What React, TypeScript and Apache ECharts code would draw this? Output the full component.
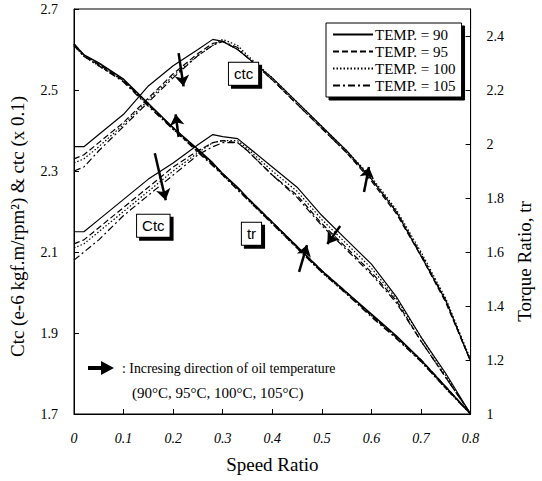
import React, { useEffect, useRef } from "react";
import * as echarts from "echarts";

const speedRatio = [0, 0.02, 0.05, 0.1, 0.15, 0.2, 0.25, 0.28, 0.3, 0.33, 0.35, 0.4, 0.45, 0.5, 0.55, 0.6, 0.65, 0.7, 0.75, 0.8];

const temps = ["TEMP. = 90", "TEMP. = 95", "TEMP. = 100", "TEMP. = 105"];

// upper curve: ctc (x 0.1), left axis
const ctc90 = [2.36, 2.36, 2.39, 2.44, 2.51, 2.56, 2.60, 2.625, 2.62, 2.60, 2.58, 2.53, 2.47, 2.41, 2.35, 2.28, 2.20, 2.09, 1.98, 1.83];
const ctc95 = [2.33, 2.34, 2.37, 2.42, 2.48, 2.54, 2.59, 2.615, 2.62, 2.60, 2.58, 2.525, 2.465, 2.405, 2.345, 2.275, 2.195, 2.09, 1.975, 1.83];
const ctc100 = [2.32, 2.33, 2.36, 2.415, 2.475, 2.535, 2.585, 2.61, 2.625, 2.61, 2.585, 2.53, 2.47, 2.41, 2.35, 2.285, 2.205, 2.10, 1.985, 1.835];
const ctc105 = [2.30, 2.31, 2.35, 2.41, 2.47, 2.53, 2.585, 2.61, 2.62, 2.605, 2.58, 2.525, 2.465, 2.405, 2.345, 2.28, 2.20, 2.095, 1.98, 1.83];

// lower curve: Ctc, left axis
const bigCtc90 = [2.15, 2.15, 2.18, 2.23, 2.28, 2.32, 2.365, 2.39, 2.385, 2.38, 2.36, 2.31, 2.26, 2.19, 2.13, 2.07, 1.99, 1.89, 1.80, 1.70];
const bigCtc95 = [2.12, 2.13, 2.16, 2.21, 2.26, 2.31, 2.35, 2.37, 2.375, 2.37, 2.35, 2.29, 2.24, 2.17, 2.11, 2.05, 1.98, 1.88, 1.79, 1.70];
const bigCtc100 = [2.11, 2.12, 2.15, 2.20, 2.25, 2.30, 2.345, 2.37, 2.375, 2.375, 2.355, 2.30, 2.25, 2.18, 2.12, 2.06, 1.985, 1.89, 1.795, 1.70];
const bigCtc105 = [2.08, 2.10, 2.13, 2.19, 2.24, 2.29, 2.34, 2.36, 2.37, 2.37, 2.35, 2.29, 2.235, 2.165, 2.105, 2.045, 1.975, 1.88, 1.79, 1.70];

// torque ratio, right axis
const tr90 = [2.37, 2.33, 2.30, 2.24, 2.15, 2.06, 1.98, 1.93, 1.89, 1.84, 1.80, 1.71, 1.62, 1.53, 1.45, 1.37, 1.29, 1.20, 1.10, 1.00];
const tr95 = [2.37, 2.33, 2.295, 2.235, 2.145, 2.06, 1.975, 1.925, 1.89, 1.835, 1.80, 1.71, 1.62, 1.53, 1.45, 1.365, 1.285, 1.20, 1.10, 1.00];
const tr100 = [2.365, 2.325, 2.29, 2.235, 2.145, 2.055, 1.975, 1.925, 1.885, 1.835, 1.795, 1.705, 1.615, 1.525, 1.445, 1.365, 1.285, 1.195, 1.095, 1.00];
const tr105 = [2.365, 2.325, 2.29, 2.23, 2.14, 2.055, 1.97, 1.92, 1.885, 1.83, 1.795, 1.705, 1.615, 1.525, 1.445, 1.36, 1.28, 1.195, 1.095, 1.00];

// annotation arrows [x1, y1, x2, y2] in data units (left axis), head at second point
const arrows = [
  [0.211, 2.591, 0.221, 2.509],
  [0.211, 2.384, 0.205, 2.44],
  [0.163, 2.344, 0.185, 2.228],
  [0.585, 2.248, 0.595, 2.31],
  [0.537, 2.164, 0.511, 2.12],
  [0.454, 2.051, 0.47, 2.117],
];

// labelled boxes [text, x, y]
const boxLabels: [string, number, number][] = [
  ["ctc", 0.342, 2.54],
  ["Ctc", 0.16, 2.165],
  ["tr", 0.358, 2.145],
];

const dashTypes: any[] = ["solid", [6, 3], [1.5, 2], [7, 3, 2, 3]];

const serif = "'Liberation Serif', 'Times New Roman', serif";
const sans = "'Liberation Sans', Arial, sans-serif";

function pairs(ys: number[]) {
  return speedRatio.map((x, i) => [x, ys[i]]);
}

export default function App() {
  const ref = useRef<HTMLDivElement>(null);
  useEffect(() => {
    if (!ref.current) return;
    const chart = echarts.init(ref.current, null, { renderer: "svg" });
    const groups = [
      { data: [ctc90, ctc95, ctc100, ctc105], axis: 0, width: 1.2 },
      { data: [bigCtc90, bigCtc95, bigCtc100, bigCtc105], axis: 0, width: 1.2 },
      { data: [tr90, tr95, tr100, tr105], axis: 1, width: 1.5 },
    ];
    const series: any[] = [];
    groups.forEach((g) => {
      g.data.forEach((ys, i) => {
        series.push({
          name: temps[i],
          type: "line",
          yAxisIndex: g.axis,
          data: pairs(ys),
          symbol: "none",
          showSymbol: false,
          silent: true,
          lineStyle: { color: "#000", width: g.width, type: dashTypes[i] },
          itemStyle: { color: "#000" },
        });
      });
    });
    series.push({
      name: "annotations",
      type: "line",
      yAxisIndex: 0,
      data: [],
      silent: true,
      markLine: {
        silent: true,
        symbol: ["none", "arrow"],
        symbolSize: 11,
        label: { show: false },
        lineStyle: { color: "#000", width: 2.5, type: "solid" },
        data: arrows.map((a) => [{ coord: [a[0], a[1]] }, { coord: [a[2], a[3]] }]),
      },
      markPoint: {
        silent: true,
        symbol: "rect",
        symbolSize: 1,
        itemStyle: { color: "rgba(0,0,0,0)" },
        data: boxLabels.map((b) => ({
          coord: [b[1], b[2]],
          label: {
            show: true,
            position: "inside",
            formatter: b[0],
            color: "#000",
            fontFamily: sans,
            fontSize: 15,
            backgroundColor: "#fff",
            borderColor: "#000",
            borderWidth: 1,
            padding: [4, 5, 3, 5],
            shadowColor: "#000",
            shadowOffsetX: 3,
            shadowOffsetY: 3,
            shadowBlur: 0,
          },
        })),
      },
    });

    chart.setOption({
      animation: false,
      grid: { left: 72, top: 9, width: 402, height: 405, show: true, borderColor: "#000", borderWidth: 1 },
      legend: {
        data: temps,
        orient: "vertical",
        left: 326,
        top: 23,
        itemWidth: 40,
        itemHeight: 14,
        itemGap: 2,
        padding: [4, 6, 4, 6],
        backgroundColor: "#fff",
        borderColor: "#000",
        borderWidth: 1,
        shadowColor: "#000",
        shadowOffsetX: 3,
        shadowOffsetY: 3,
        shadowBlur: 0,
        selectedMode: false,
        itemStyle: { color: "rgba(0,0,0,0)", borderColor: "rgba(0,0,0,0)", borderWidth: 0 },
        textStyle: { color: "#000", fontFamily: serif, fontSize: 15, padding: [0, 0, 0, -3] },
      },
      xAxis: {
        type: "value",
        min: 0,
        max: 0.8,
        interval: 0.1,
        name: "Speed Ratio",
        nameLocation: "middle",
        nameGap: 41,
        nameTextStyle: { color: "#000", fontFamily: serif, fontSize: 19 },
        axisLine: { show: true, lineStyle: { color: "#000" } },
        axisTick: { show: true, inside: true, length: 5, lineStyle: { color: "#000" } },
        splitLine: { show: false },
        axisLabel: { color: "#000", fontFamily: serif, fontSize: 14, fontStyle: "italic", margin: 17 },
      },
      yAxis: [
        {
          type: "value",
          min: 1.7,
          max: 2.7,
          interval: 0.2,
          name: "Ctc (e-6 kgf.m/rpm\u00B2) & ctc (x 0.1)",
          nameLocation: "middle",
          nameGap: 47,
          nameTextStyle: { color: "#000", fontFamily: serif, fontSize: 19, padding: [0, 30, 0, 0] },
          axisLine: { show: true, lineStyle: { color: "#000" } },
          axisTick: { show: true, inside: true, length: 5, lineStyle: { color: "#000" } },
          splitLine: { show: false },
          axisLabel: { color: "#000", fontFamily: serif, fontSize: 14, margin: 16 },
        },
        {
          type: "value",
          position: "right",
          min: 1,
          max: 2.5,
          interval: 0.2,
          name: "Torque Ratio, tr",
          nameLocation: "middle",
          nameGap: 32,
          nameRotate: 90,
          nameTextStyle: { color: "#000", fontFamily: serif, fontSize: 19, padding: [0, 100, 0, 0] },
          axisLine: { show: true, lineStyle: { color: "#000" } },
          axisTick: { show: true, inside: true, length: 5, lineStyle: { color: "#000" } },
          splitLine: { show: false },
          axisLabel: { color: "#000", fontFamily: serif, fontSize: 14, margin: 16, showMaxLabel: false },
        },
      ],
      graphic: [
        { type: "rect", shape: { x: 88, y: 366, width: 15, height: 4 }, style: { fill: "#000" }, silent: true },
        { type: "polygon", shape: { points: [[101, 361], [114, 368], [101, 375]] }, style: { fill: "#000" }, silent: true },
        {
          type: "text",
          x: 122,
          y: 368,
          silent: true,
          style: { text: ": Incresing direction of oil temperature", fill: "#000", font: `13.8px ${serif}`, verticalAlign: "middle" },
        },
        {
          type: "text",
          x: 132,
          y: 393,
          silent: true,
          style: { text: "(90\u00B0C, 95\u00B0C, 100\u00B0C, 105\u00B0C)", fill: "#000", font: `15px ${serif}`, verticalAlign: "middle" },
        },
      ],
      series,
    });
    return () => chart.dispose();
  }, []);
  return <div ref={ref} style={{ position: "absolute", left: 0, top: 0, width: 542, height: 481 }} />;
}
